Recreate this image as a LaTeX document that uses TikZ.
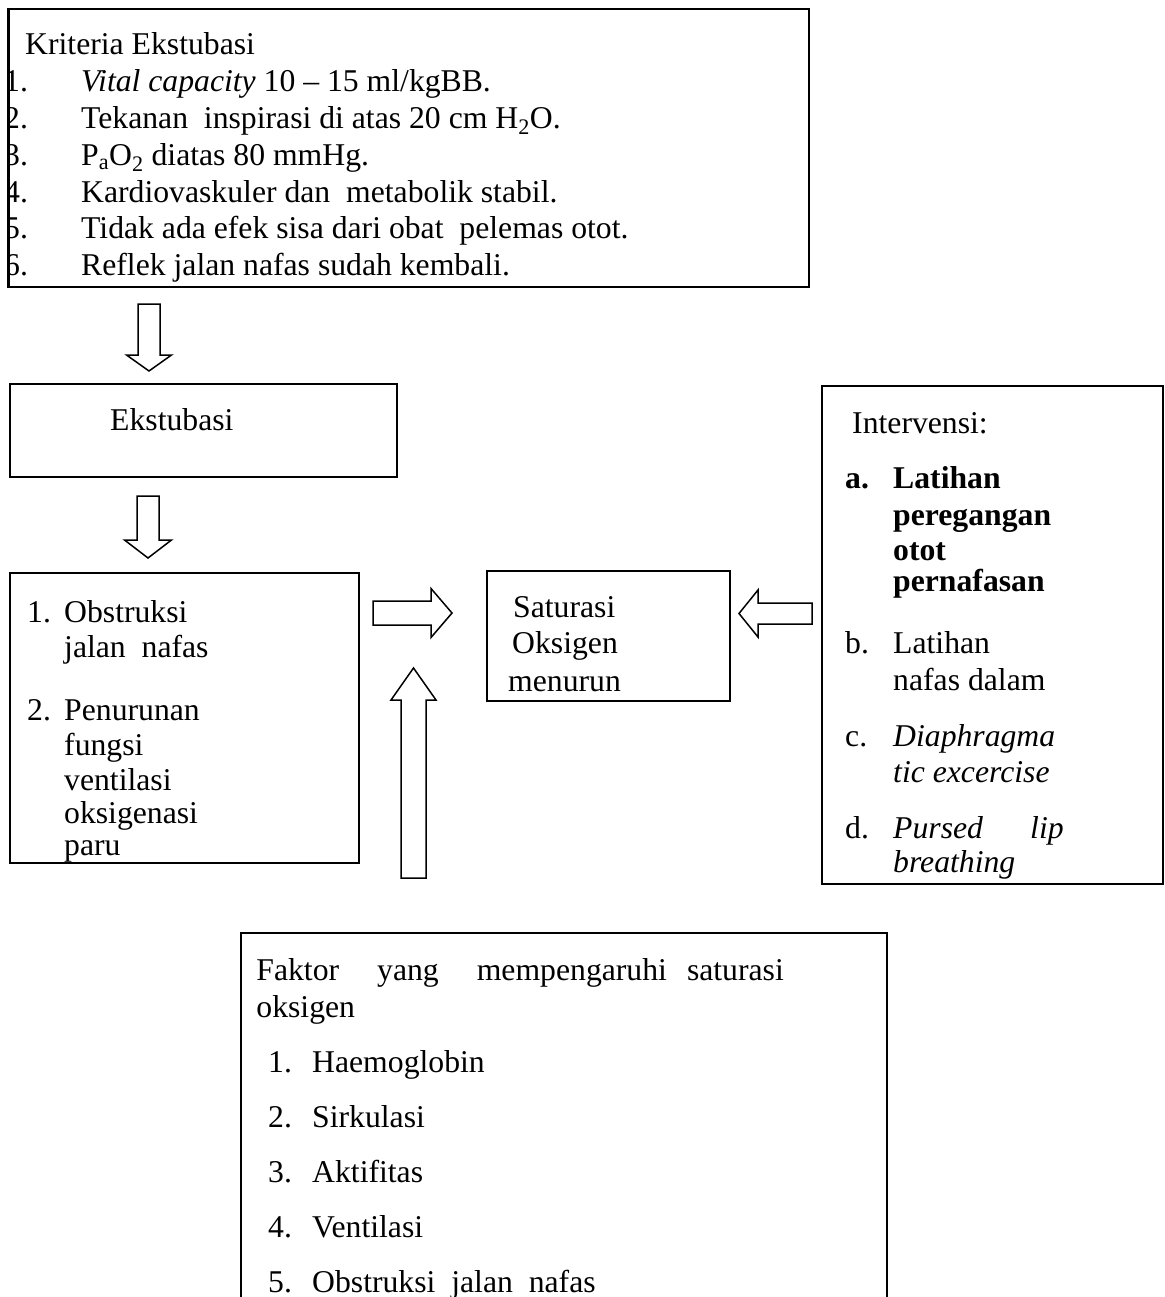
\documentclass[tikz,border=0pt]{standalone}
\usepackage{fontspec}
\setmainfont{Liberation Serif}

\tikzset{
  box/.style={draw, line width=2pt, inner sep=0pt, anchor=north west},
  txt/.style={anchor=base west, inner sep=0pt},
  blockarrow/.style={draw, line width=1.5pt, line join=miter}
}

\begin{document}
\begin{tikzpicture}[x=1pt, y=-1pt, font=\fontsize{31.7}{38}\selectfont]
\useasboundingbox (0,0) rectangle (1164,1297);
\clip (0,0) rectangle (1164,1297);
% The boxes first
\node[box, minimum width=800, minimum height=278] (kriteria) at (8,8) {};
\node[box, minimum width=387, minimum height=93] (ekstubasi) at (9,383) {};
\node[box, minimum width=349, minimum height=290] (obstruksi) at (9,572) {};
\node[box, minimum width=243, minimum height=130] (saturasi) at (486,570) {};
\node[box, minimum width=341, minimum height=498] (intervensi) at (821,385) {};
\node[box, minimum width=646, minimum height=400] (faktor) at (240,932) {};
% Then the hollow block arrows, each from the middle of its tail
\coordinate (a1) at (149,304);
\coordinate (a2) at (148,496);
\coordinate (a3) at (373,613);
\coordinate (a4) at (812,613.5);
\coordinate (a5) at (413.5,878);
\draw[blockarrow] (a1) ++(-11,0) -- ++(0,51) -- ++(-11.5,0) -- ++(22.5,16)
  -- ++(22.5,-16) -- ++(-11.5,0) -- ++(0,-51) -- cycle;
\draw[blockarrow] (a2) ++(-11,0) -- ++(0,44) -- ++(-12.5,0) -- ++(23.5,18)
  -- ++(23.5,-18) -- ++(-12.5,0) -- ++(0,-44) -- cycle;
\draw[blockarrow] (a3) ++(0,-12) -- ++(58,0) -- ++(0,-12.5) -- ++(21,24.5)
  -- ++(-21,24.5) -- ++(0,-12.5) -- ++(-58,0) -- cycle;
\draw[blockarrow] (a4) ++(0,-10.5) -- ++(-54,0) -- ++(0,-13) -- ++(-19,23.5)
  -- ++(19,23.5) -- ++(0,-13) -- ++(54,0) -- cycle;
\draw[blockarrow] (a5) ++(-12.5,0) -- ++(0,-178) -- ++(-10,0) -- ++(22.5,-32)
  -- ++(22.5,32) -- ++(-10,0) -- ++(0,178) -- cycle;
% Kriteria ekstubasi (the numbers run under the left border)
\node[txt] (kjudul) at (25,55) {Kriteria Ekstubasi};
\begin{scope}
\clip (kriteria.north west) rectangle (kriteria.south east);
\foreach \num/\entry [count=\i from 0] in {
    1./{\textit{Vital capacity} 10 -- 15 ml/kgBB.},
    2./{Tekanan\ \ inspirasi di atas 20 cm H\textsubscript{2}O.},
    3./{P\textsubscript{a}O\textsubscript{2} diatas 80 mmHg.},
    4./{Kardiovaskuler dan\ \ metabolik stabil.},
    5./{Tidak ada efek sisa dari obat\ \ pelemas otot.},
    6./{Reflek jalan nafas sudah kembali.}}
{
  \node[txt] (kn\i) at (4,92+36.7*\i) {\num};
  \node[txt] (k\i) at (81,92+36.7*\i) {\entry};
}
\end{scope}
\draw[line width=2pt] (kriteria.north west) -- (kriteria.south west);
\node[txt] (tekstubasi) at (110,430) {Ekstubasi};
% Obstruksi dan penurunan fungsi
\node[txt] (on1) at (27,622) {1.};
\node[txt] (o1) at (64,622) {Obstruksi};
\node[txt] (o1b) at (64,657) {jalan\ \ nafas};
\node[txt] (on2) at (27,720) {2.};
\foreach \entry/\y [count=\i] in {Penurunan/720, fungsi/755, ventilasi/790,
    oksigenasi/823, paru/855}
  \node[txt] (o2\i) at (64,\y) {\entry};
% Saturasi
\node[txt] (s1) at (513,617) {Saturasi};
\node[txt] (s2) at (512,653) {Oksigen};
\node[txt] (s3) at (508,691) {menurun};
% Intervensi
\node[txt] (ijudul) at (852,433) {Intervensi:};
\node[txt] (ia) at (845,488) {\textbf{a.}};
\foreach \entry/\y [count=\i] in {Latihan/488, peregangan/525, otot/560,
    pernafasan/591}
  \node[txt] (ia\i) at (893,\y) {\textbf{\entry}};
\node[txt] (ib) at (845,653) {b.};
\node[txt] (ib1) at (893,653) {Latihan};
\node[txt] (ib2) at (893,690) {nafas dalam};
\node[txt] (ic) at (845,746) {c.};
\node[txt] (ic1) at (893,746) {\textit{Diaphragma}};
\node[txt] (ic2) at (893,782) {\textit{tic excercise}};
\node[txt] (id) at (845,838) {d.};
\node[txt] (id1) at (893,838) {\textit{Pursed}};
\node[txt] (id2) at (1030,838) {\textit{lip}};
\node[txt] (id3) at (893,872) {\textit{breathing}};
% Faktor yang mempengaruhi
\node[anchor=base east, inner sep=0pt] (fjudul) at (784,980)
  {Faktor\hspace{38pt}yang\hspace{38pt}mempengaruhi\hspace{20pt}saturasi};
\node[txt] (fjudul2) at (fjudul.base west) [yshift=-37pt] {oksigen};
\foreach \entry [count=\i] in {Haemoglobin, Sirkulasi, Aktifitas, Ventilasi,
    {Obstruksi\ \ jalan\ \ nafas}}
{
  \node[txt] (fn\i) at (268,1072+55.2*\i-55.2) {\i.};
  \node[txt] (f\i) at (312,1072+55.2*\i-55.2) {\entry};
}
\end{tikzpicture}
\end{document}
